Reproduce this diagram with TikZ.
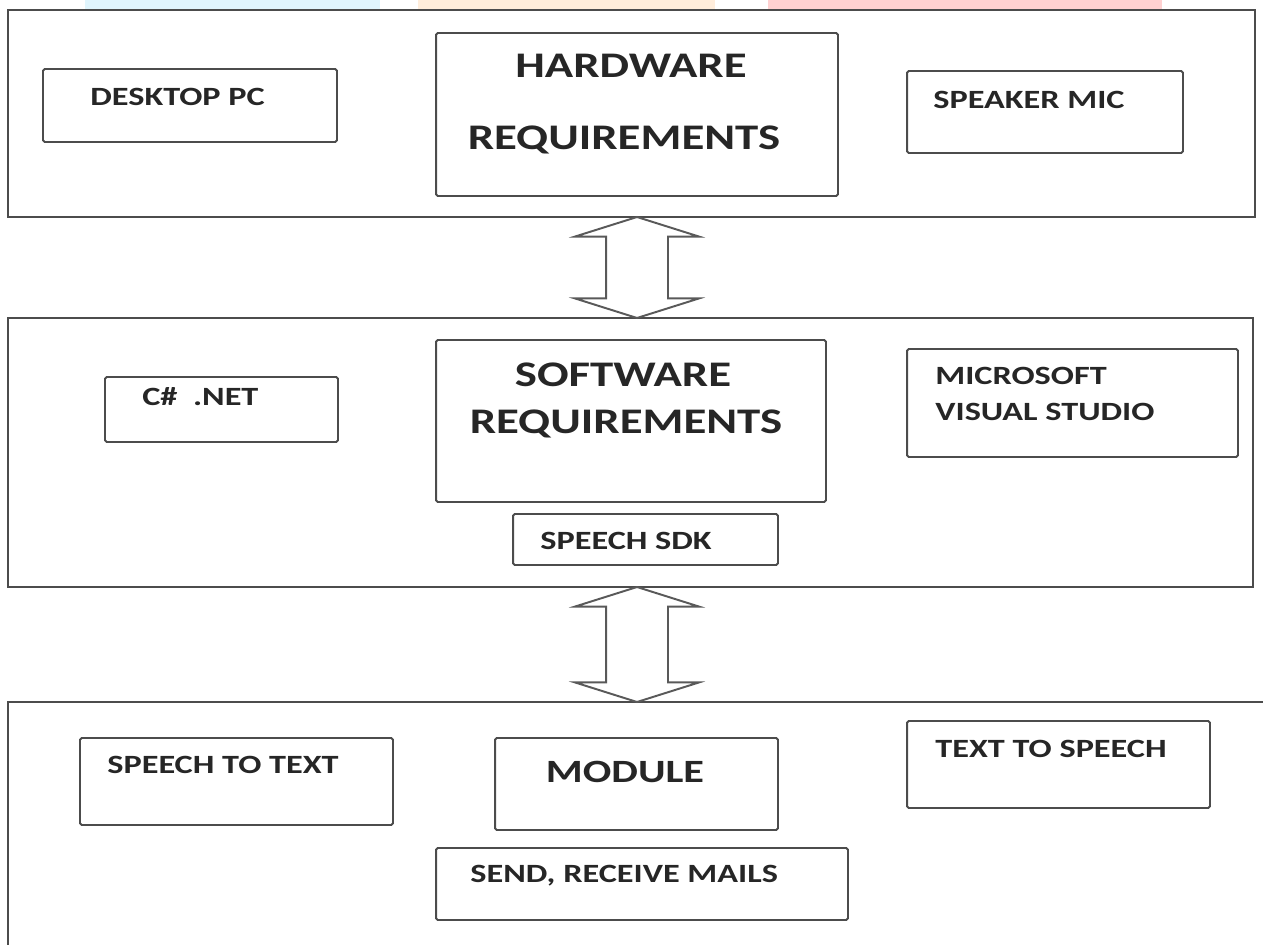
\documentclass[tikz,border=0pt]{standalone}
\usepackage{fontspec}
\setmainfont{Carlito}[FakeStretch=1.3]
\usepackage{tikz}
\usetikzlibrary{positioning,shapes.arrows}

\tikzset{
  panel/.style={draw=black!70,line width=1.2pt,rectangle,inner sep=0pt},
  box/.style={draw=black!70,line width=1.1pt,rectangle,rounded corners=1pt,inner sep=0pt},
  lbl/.style={font=\bfseries\fontsize{15}{18}\selectfont,text=black!85,inner sep=0pt,anchor=west},
  big/.style={font=\bfseries\fontsize{20.5}{24}\selectfont,text=black!85,inner sep=0pt},
  updown/.style={double arrow,draw=black!65,line width=1.1pt,fill=white,rotate=90,
    inner xsep=0pt,inner ysep=0.6cm,double arrow head extend=0.62cm,double arrow tip angle=145}
}

\begin{document}
\begin{tikzpicture}[x=0.02cm,y=-0.02cm]
  \useasboundingbox (0,0) rectangle (1263,945);
  % watermark remains at the top edge
  \fill[cyan!12] (85,0) rectangle (380,9);
  \fill[orange!14] (418,0) rectangle (715,9);
  \fill[red!18] (768,0) rectangle (1162,9);

  % hardware panel
  \node[panel,minimum width=24.94cm,minimum height=4.14cm] (hwpanel) at (631.5,113.5) {};
  \node[box,minimum width=8.04cm,minimum height=3.26cm] (hw) at (637,114.5) {};
  \node[big] (hwa) at (631,66) {HARDWARE};
  \node[big] (hwb) at (624,140) {REQUIREMENTS};
  \node[box,minimum width=5.88cm,minimum height=1.46cm] (desk) at (190,105.5) {};
  \node[lbl] (deskt) at (90,97) {DESKTOP PC};
  \node[box,minimum width=5.52cm,minimum height=1.64cm] (spk) at (1045,112) {};
  \node[lbl] (spkt) at (933,100) {SPEAKER MIC};

  % software panel
  \node[panel,minimum width=24.9cm,minimum height=5.38cm] (swpanel) at (630.5,452.5) {};
  \node[box,minimum width=7.8cm,minimum height=3.24cm] (sw) at (631,421) {};
  \node[big] (swa) at (623,375) {SOFTWARE};
  \node[big] (swb) at (626,424) {REQUIREMENTS};
  \node[box,minimum width=4.66cm,minimum height=1.3cm] (csharp) at (221.5,409.5) {};
  \node[lbl] (csharpt) at (142,397) {C\#\ \ .NET};
  \node[box,minimum width=6.62cm,minimum height=2.16cm] (msvs) at (1072.5,403) {};
  \node[lbl] (msvsa) at (935,376) {MICROSOFT};
  \node[lbl] (msvsb) at (935,412) {VISUAL STUDIO};
  \node[box,minimum width=5.3cm,minimum height=1.02cm] (sdk) at (645.5,539.5) {};
  \node[lbl] (sdkt) at (540,541) {SPEECH SDK};

  % module panel
  \node[panel,minimum width=25.64cm,minimum height=5.56cm] (modpanel) at (649,841) {};
  \node[box,minimum width=6.26cm,minimum height=1.74cm] (stt) at (236.5,781.5) {};
  \node[lbl] (sttt) at (107,765) {SPEECH TO TEXT};
  \node[box,minimum width=5.66cm,minimum height=1.84cm] (mod) at (636.5,784) {};
  \node[big,font=\bfseries\fontsize{18.5}{22}\selectfont] (modt) at (625,772) {MODULE};
  \node[box,minimum width=6.06cm,minimum height=1.74cm] (tts) at (1058.5,764.5) {};
  \node[lbl] (ttst) at (935,749) {TEXT TO SPEECH};
  \node[box,minimum width=8.24cm,minimum height=1.44cm] (mail) at (642,884) {};
  \node[lbl] (mailt) at (470,876) {SEND, RECEIVE MAILS};

  % links between the panels
  \node[updown,minimum height=2.02cm] (arr1) at (637,267.5) {};
  \node[updown,minimum height=2.3cm] (arr2) at (637,644.5) {};
\end{tikzpicture}
\end{document}
